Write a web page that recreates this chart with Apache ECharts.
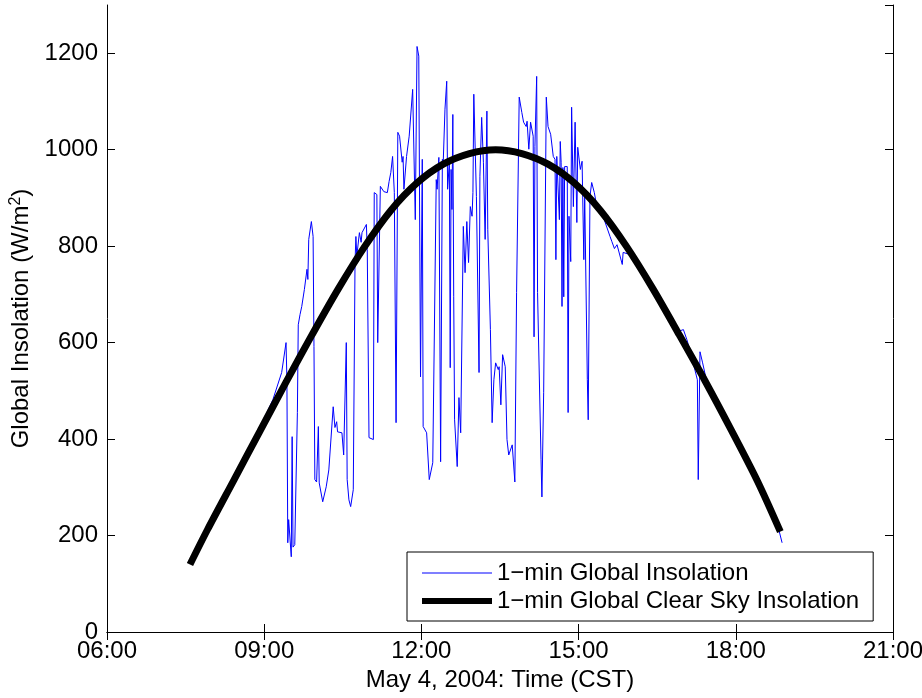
<!DOCTYPE html>
<html>
<head>
<meta charset="utf-8">
<script src="https://cdn.jsdelivr.net/npm/echarts@6/dist/echarts.min.js"></script>
<style>html,body{margin:0;padding:0;background:#fff}#c{width:922px;height:698px}</style>
</head>
<body>
<div id="c"></div>
<script>
// Time in minutes after midnight (CST), values in W/m^2
const xTickLabels = ['06:00', '09:00', '12:00', '15:00', '18:00', '21:00'];
const yTickLabels = ['0', '200', '400', '600', '800', '1000', '1200'];

const clearSkyMinutes = [455, 475, 505, 535, 565, 595, 625, 655, 685, 715, 745, 775, 805, 835, 865, 895, 925, 955, 985, 1015, 1045, 1075, 1105, 1131];
const clearSkyValues  = [140, 212, 314, 416, 518, 617, 712, 799, 874, 931, 970, 992, 1000, 992, 970, 931, 874, 799, 712, 617, 520, 418, 312, 208];

const globalMinutes = [492,512,527,550,560,565,566,567,568,571,572,573,575,578,579,581,583,586,589,590,591,594,596,597,598,600,602,603,605,607,611,614,619,621,623,624,629,631,634,635,637,639,642,644,645,646,649,651,652,657,658,660,665,666,669,670,673,677,681,683,685,687,689,691,693,695,698,699,700,703,706,710,713,715,717,719,721,722,726,729,731,733,737,738,740,742,744,745,747,749,750,752,753,754,755,756,757,758,761,763,765,768,770,772,774,776,778,779,780,783,786,787,789,791,793,795,796,799,801,803,805,808,809,811,813,816,818,820,824,827,829,832,835,837,840,841,843,845,848,849,850,852,853,857,858,860,863,865,868,871,873,874,875,878,879,880,881,882,883,884,887,888,889,891,892,894,896,898,899,902,904,906,907,910,911,913,915,918,920,922,928,936,938,941,944,950,951,960,975,990,1005,1014,1020,1024,1028,1036,1037,1039,1042,1047,1065,1080,1095,1110,1125,1133];
const globalValues  = [265,345,392,482,538,600,523,185,233,156,405,176,181,455,637,658,675,710,752,731,814,851,820,592,316,311,426,309,311,270,301,336,467,424,436,415,413,367,600,316,274,260,295,766,820,779,828,808,828,845,793,403,399,911,907,600,924,913,911,934,953,986,911,434,1036,1028,974,986,918,986,1028,1125,855,1214,1194,529,980,426,413,316,316,351,938,918,984,353,980,974,1084,1142,918,974,548,959,876,1073,695,440,343,486,413,841,745,851,766,882,862,911,1115,903,538,945,1067,974,814,1080,835,627,434,523,558,544,550,471,575,550,399,367,388,311,704,1109,1077,1057,1048,1059,1001,1057,1028,612,1007,1152,704,357,280,496,1109,1048,1032,986,980,772,986,855,1017,974,675,963,695,965,965,455,862,768,1088,882,1057,849,1005,959,976,772,903,523,440,903,932,911,891,876,862,820,810,795,803,762,787,782,738,692,650,623,627,606,581,523,316,581,558,517,452,400,348,296,243,185];

const seriesNames = ['1\u2212min Global Insolation', '1\u2212min Global Clear Sky Insolation'];

const globalData = globalMinutes.map((m, i) => [m, globalValues[i]]);
const clearData = clearSkyMinutes.map((m, i) => [m, clearSkyValues[i]]);

const FONT = 'Liberation Sans';
const FS = 24;
const xMin = 360, xMax = 1260, xInt = 180;
const yMin = 0, yMax = 1300, yInt = 200;

function xFmt(v) {
  const idx = Math.round((v - xMin) / xInt);
  return (v - xMin) % xInt === 0 && xTickLabels[idx] !== undefined ? xTickLabels[idx] : '';
}
function yFmt(v) {
  const idx = Math.round((v - yMin) / yInt);
  return (v - yMin) % yInt === 0 && yTickLabels[idx] !== undefined ? yTickLabels[idx] : '';
}

const axisLineStyle = { show: true, lineStyle: { color: '#000', width: 1 } };
const tickStyle = { show: true, inside: true, length: 8, lineStyle: { color: '#000', width: 1 } };

const chart = echarts.init(document.getElementById('c'), null, { renderer: 'canvas' });
chart.setOption({
  animation: false,
  backgroundColor: '#fff',
  grid: { left: 107, right: 29, top: 5, bottom: 66, containLabel: false, outerBoundsMode: 'none' },
  xAxis: [
    {
      type: 'value', min: xMin, max: xMax, interval: xInt, position: 'bottom',
      axisLine: axisLineStyle, axisTick: tickStyle, splitLine: { show: false },
      axisLabel: { formatter: xFmt, color: '#000', fontFamily: FONT, fontSize: FS, margin: 7, hideOverlap: false },
      name: 'May 4, 2004: Time (CST)', nameLocation: 'middle', nameGap: 30,
      nameTextStyle: { color: '#000', fontFamily: FONT, fontSize: FS }
    },
    {
      type: 'value', min: xMin, max: xMax, interval: xInt, position: 'top',
      axisLine: axisLineStyle, axisTick: tickStyle, splitLine: { show: false },
      axisLabel: { show: false }
    }
  ],
  yAxis: [
    {
      type: 'value', min: yMin, max: yMax, interval: yInt, position: 'left',
      axisLine: axisLineStyle, axisTick: tickStyle, splitLine: { show: false },
      axisLabel: { formatter: yFmt, color: '#000', fontFamily: FONT, fontSize: FS, margin: 9, showMaxLabel: false },
      name: 'Global Insolation (W/m{sup|2})', nameLocation: 'middle', nameGap: 70, nameRotate: 90,
      nameTextStyle: {
        color: '#000', fontFamily: FONT, fontSize: FS,
        rich: { sup: { fontSize: 16, fontFamily: FONT, color: '#000', verticalAlign: 'bottom', padding: [0, 0, 12, 0] } }
      }
    },
    {
      type: 'value', min: yMin, max: yMax, interval: yInt, position: 'right',
      axisLine: axisLineStyle, axisTick: tickStyle, splitLine: { show: false },
      axisLabel: { show: false }
    }
  ],
  legend: {
    show: true, orient: 'vertical', left: 407, top: 552,
    padding: [9, 14, 8, 15], itemGap: 4, itemWidth: 70, itemHeight: 20,
    backgroundColor: '#fff', borderColor: '#000', borderWidth: 1, borderRadius: 0,
    selectedMode: false, symbolKeepAspect: true,
    textStyle: { color: '#000', fontFamily: FONT, fontSize: FS },
    data: [
      { name: seriesNames[0], icon: 'path://M0,0 H70 V1 H0 Z', itemStyle: { color: '#0000ff' } },
      { name: seriesNames[1], icon: 'path://M0,0 H70 V6 H0 Z', itemStyle: { color: '#000' } }
    ]
  },
  series: [
    {
      name: seriesNames[0], type: 'line', data: globalData, xAxisIndex: 0, yAxisIndex: 0,
      showSymbol: false, symbol: 'none', smooth: false,
      lineStyle: { color: '#0000ff', width: 1 }, itemStyle: { color: '#0000ff' },
      emphasis: { disabled: true }, z: 2
    },
    {
      name: seriesNames[1], type: 'line', data: clearData, xAxisIndex: 0, yAxisIndex: 0,
      showSymbol: false, symbol: 'none', smooth: 0.3,
      lineStyle: { color: '#000', width: 7, cap: 'butt' }, itemStyle: { color: '#000' },
      emphasis: { disabled: true }, z: 3
    }
  ]
});
</script>
</body>
</html>
